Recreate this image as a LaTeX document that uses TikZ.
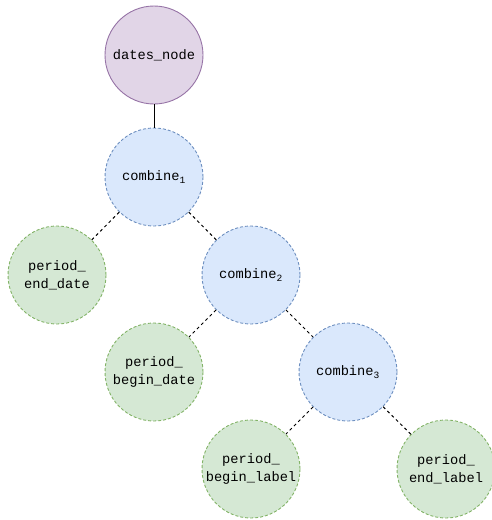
\documentclass[tikz,border=0pt]{standalone}
\usepackage{fontspec}
\setmonofont{Liberation Mono}
\definecolor{pfill}{HTML}{E1D5E7}\definecolor{pdraw}{HTML}{9673A6}
\definecolor{bfill}{HTML}{DAE8FC}\definecolor{bdraw}{HTML}{6C8EBF}
\definecolor{gfill}{HTML}{D5E8D4}\definecolor{gdraw}{HTML}{82B366}
\begin{document}
\begin{tikzpicture}[x=1pt,y=-1pt,
  base/.style={circle,minimum size=98pt,inner sep=0pt,line width=0.9pt,align=center,
    font=\fontsize{13.7}{18}\ttfamily},
  rootnode/.style={base,fill=pfill,draw=pdraw},
  combnode/.style={base,fill=bfill,draw=bdraw,dash pattern=on 3pt off 2pt},
  leafnode/.style={base,fill=gfill,draw=gdraw,dash pattern=on 3pt off 2pt},
  edge/.style={line width=1pt,dash pattern=on 3pt off 3pt}]
\useasboundingbox (0,0) rectangle (492,520);
\node[rootnode] (root) at (154,55) {dates\_node};
\node[combnode] (c1) at (154,177) {combine\textsubscript{1}};
\node[leafnode] (ped) at (57,275) {period\_\\end\_date};
\node[combnode] (c2) at (251,275) {combine\textsubscript{2}};
\node[leafnode] (pbd) at (154,372) {period\_\\begin\_date};
\node[combnode] (c3) at (348,372) {combine\textsubscript{3}};
\node[leafnode] (pbl) at (251,469) {period\_\\begin\_label};
\node[leafnode] (pel) at (446,469) {period\_\\end\_label};
\draw[line width=1pt] (root) -- (c1);
\draw[edge] (c1) -- (ped);
\draw[edge] (c1) -- (c2);
\draw[edge] (c2) -- (pbd);
\draw[edge] (c2) -- (c3);
\draw[edge] (c3) -- (pbl);
\draw[edge] (c3) -- (pel);
\end{tikzpicture}
\end{document}
